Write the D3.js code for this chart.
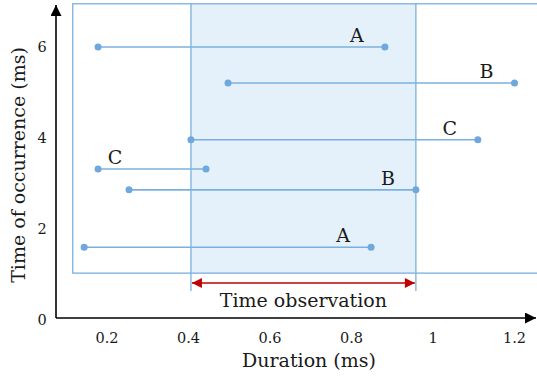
<!DOCTYPE html>
<html>
  <head>
    <meta charset="utf-8">
    <title>Duration vs time of occurrence</title>
    <script src="https://cdnjs.cloudflare.com/ajax/libs/d3/7.8.5/d3.min.js"></script>
    <style>
      body { margin: 0; background-color: #FFF }
      svg { display: block; font-family: "DejaVu Serif", serif }
    </style>
  </head>
  <body>
    <svg width="537" height="376"></svg>
    <script>
      // segment data (duration start/end, time of occurrence, label)
      var labels = ["A", "B", "C", "C", "B", "A"];
      var occurrence = [6.0, 5.21, 3.96, 3.32, 2.86, 1.60];
      var startDur = [0.178, 0.497, 0.406, 0.178, 0.254, 0.144];
      var endDur = [0.882, 1.20, 1.11, 0.443, 0.958, 0.848];

      var xTicks = [0.2, 0.4, 0.6, 0.8, 1, 1.2];
      var yTicks = [0, 2, 4, 6];
      var windowDur = [0.406, 0.958];     // time observation window
      var boxDur = [0.116, 1.27];
      var boxTime = [1.03, 6.95];

      var svg = d3.select("svg");
      var x = d3.scaleLinear().domain([0.2, 1.2]).range([107, 514.5]);
      var y = d3.scaleLinear().domain([0, 6]).range([320, 47]);
      var originX = 56, originY = 318;
      var blue = "#7ab0de", dotBlue = "#6fa8dc", ink = "#1a1a1a";

      // arrow markers
      var defs = svg.append("defs");
      function marker(id, color, w, h) {
        defs.append("marker").attr("id", id)
          .attr("viewBox", "0 0 10 10").attr("refX", 10).attr("refY", 5)
          .attr("markerWidth", w).attr("markerHeight", h)
          .attr("markerUnits", "userSpaceOnUse")
          .attr("orient", "auto-start-reverse")
          .append("path").attr("d", "M0,0 L10,5 L0,10 Z").attr("fill", color);
      }
      marker("blk", "#000", 13, 11);
      marker("red", "#c00000", 13, 10);

      // shaded window
      svg.append("rect")
        .attr("x", x(windowDur[0])).attr("y", y(boxTime[1]))
        .attr("width", x(windowDur[1]) - x(windowDur[0]))
        .attr("height", y(boxTime[0]) - y(boxTime[1]))
        .attr("fill", "#e5f1fa");

      svg.selectAll(".wline").data(windowDur).enter().append("line")
        .attr("x1", function(d) { return x(d) }).attr("x2", function(d) { return x(d) })
        .attr("y1", y(boxTime[1])).attr("y2", 291)
        .attr("stroke", blue).attr("stroke-width", 1.3);

      // outer box
      svg.append("rect")
        .attr("x", x(boxDur[0])).attr("y", y(boxTime[1]))
        .attr("width", x(boxDur[1]) - x(boxDur[0]))
        .attr("height", y(boxTime[0]) - y(boxTime[1]))
        .attr("fill", "none").attr("stroke", blue).attr("stroke-width", 1.3);

      // time observation arrow
      svg.append("line")
        .attr("x1", x(windowDur[0]) + 1).attr("x2", x(windowDur[1]) - 1)
        .attr("y1", 283).attr("y2", 283)
        .attr("stroke", "#c00000").attr("stroke-width", 1.6)
        .attr("marker-start", "url(#red)").attr("marker-end", "url(#red)");
      svg.append("text")
        .attr("x", (x(windowDur[0]) + x(windowDur[1])) / 2).attr("y", 307)
        .attr("text-anchor", "middle").attr("font-size", 19).attr("fill", ink)
        .text("Time observation");

      // segments
      var seg = svg.selectAll(".seg").data(labels).enter().append("g");
      seg.append("line")
        .attr("x1", function(d, i) { return x(startDur[i]) })
        .attr("x2", function(d, i) { return x(endDur[i]) })
        .attr("y1", function(d, i) { return y(occurrence[i]) })
        .attr("y2", function(d, i) { return y(occurrence[i]) })
        .attr("stroke", blue).attr("stroke-width", 1.6);
      seg.append("circle")
        .attr("cx", function(d, i) { return x(startDur[i]) })
        .attr("cy", function(d, i) { return y(occurrence[i]) })
        .attr("r", 3.5).attr("fill", dotBlue);
      seg.append("circle")
        .attr("cx", function(d, i) { return x(endDur[i]) })
        .attr("cy", function(d, i) { return y(occurrence[i]) })
        .attr("r", 3.5).attr("fill", dotBlue);
      seg.append("text")
        .attr("x", function(d, i) {
          // short C segment has its label near the start
          return endDur[i] - startDur[i] < 0.4 ? x(startDur[i]) + 17 : x(endDur[i]) - 28;
        })
        .attr("y", function(d, i) { return y(occurrence[i]) - 5 })
        .attr("text-anchor", "middle").attr("font-size", 19).attr("fill", ink)
        .text(function(d) { return d });

      // axes
      svg.append("line")
        .attr("x1", originX).attr("y1", originY).attr("x2", originX).attr("y2", 5)
        .attr("stroke", "#000").attr("stroke-width", 1.6).attr("marker-end", "url(#blk)");
      svg.append("line")
        .attr("x1", originX).attr("y1", originY).attr("x2", 536).attr("y2", originY)
        .attr("stroke", "#000").attr("stroke-width", 1.6).attr("marker-end", "url(#blk)");

      svg.selectAll(".xt").data(xTicks).enter().append("text")
        .attr("x", function(d) { return x(d) }).attr("y", 343)
        .attr("text-anchor", "middle").attr("font-size", 14.5).attr("fill", ink)
        .text(function(d) { return d });
      svg.selectAll(".yt").data(yTicks).enter().append("text")
        .attr("x", 42).attr("y", function(d) { return d === 0 ? 325 : y(d) + 5 })
        .attr("text-anchor", "middle").attr("font-size", 14.5).attr("fill", ink)
        .text(function(d) { return d });

      svg.append("text")
        .attr("x", 309).attr("y", 367).attr("text-anchor", "middle")
        .attr("font-size", 19).attr("fill", ink).text("Duration (ms)");
      svg.append("text")
        .attr("transform", "translate(25,165) rotate(-90)")
        .attr("text-anchor", "middle").attr("font-size", 19).attr("fill", ink)
        .text("Time of occurrence (ms)");
    </script>
  </body>
</html>
